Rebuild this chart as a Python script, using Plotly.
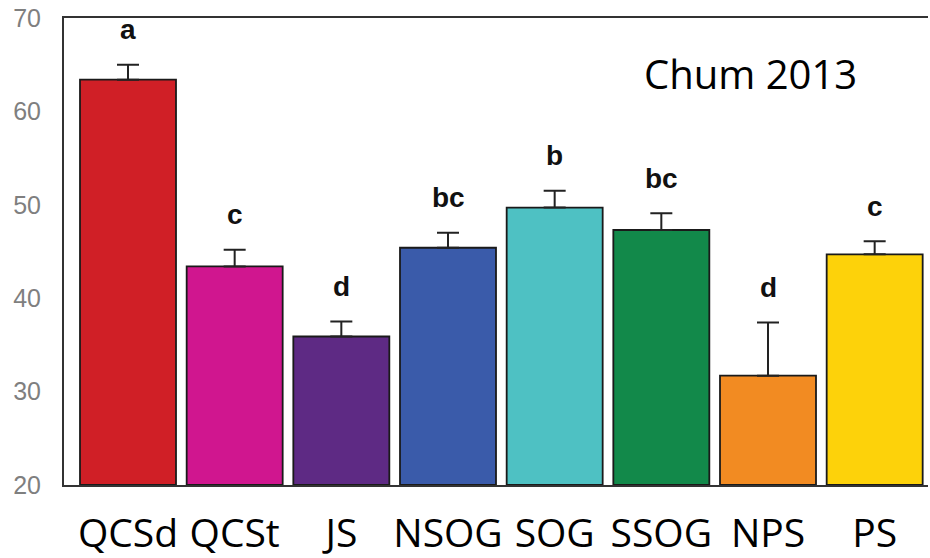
import plotly.graph_objects as go

# Sampling regions and mean values with standard errors (Chum 2013)
regions = ["QCSd", "QCSt", "JS", "NSOG", "SOG", "SSOG", "NPS", "PS"]
means = [63.4, 43.4, 35.9, 45.4, 49.7, 47.3, 31.7, 44.7]
errors = [1.6, 1.8, 1.6, 1.6, 1.8, 1.8, 5.7, 1.4]
group_letters = ["a", "c", "d", "bc", "b", "bc", "d", "c"]
bar_colors = ["#D01F26", "#D0168F", "#5E2A84", "#3A5BAA",
              "#4EC1C3", "#12894A", "#F28B22", "#FDD20A"]
y_ticks = [20, 30, 40, 50, 60, 70]

fig = go.Figure()
fig.add_trace(go.Bar(
    x=regions,
    y=[m - 20 for m in means],
    base=20,
    width=0.9,
    marker=dict(color=bar_colors, line=dict(color="#1a1a1a", width=1.8)),
    error_y=dict(type="data", symmetric=False, array=errors,
                 arrayminus=[0] * len(errors),
                 color="#222222", thickness=2, width=11),
    hoverinfo="skip",
))

# Significance letters above each error bar
for r, m, e, lab in zip(regions, means, errors, group_letters):
    fig.add_annotation(x=r, y=m + e, text=lab, showarrow=False,
                       yanchor="middle", yshift=35,
                       font=dict(family="Liberation Sans, Arial", size=28,
                                 color="#111111", weight="bold"))

fig.add_annotation(xref="paper", yref="paper", x=0.795, y=0.882,
                   xanchor="center", yanchor="middle",
                   text="Chum 2013", showarrow=False,
                   font=dict(family="Open Sans", size=40, color="#000000"))

fig.update_layout(
    width=930, height=558,
    margin=dict(l=64, r=2, t=18, b=73),
    paper_bgcolor="white", plot_bgcolor="white",
    showlegend=False,
    bargap=0.1,
)
fig.update_xaxes(
    range=[-0.6, 7.5], automargin=False,
    showline=True, linecolor="#333333", linewidth=2, mirror=True,
    ticks="", showgrid=False,
    tickfont=dict(family="Open Sans", size=39, color="#000000"),
    ticklabelstandoff=13,
)
fig.update_yaxes(
    range=[20, 70], tickvals=y_ticks, automargin=False,
    showline=True, linecolor="#333333", linewidth=2, mirror=False,
    ticks="", showgrid=False, zeroline=False,
    tickfont=dict(family="Liberation Sans, Arial", size=25, color="#7f7f7f"),
    ticklabelstandoff=16,
)

fig.write_html("out.html")
